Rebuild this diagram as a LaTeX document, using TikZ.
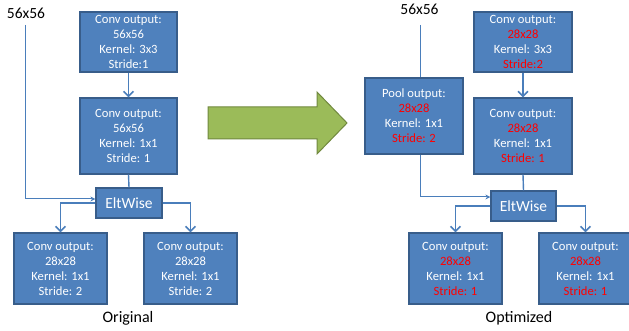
\documentclass[tikz,border=0pt]{standalone}
\usepackage{fontspec}
\setmainfont{Carlito}
\usetikzlibrary{arrows.meta}
\definecolor{boxfill}{HTML}{4F81BD}
\definecolor{boxline}{HTML}{385D8A}
\definecolor{conn}{HTML}{4A7EBB}
\definecolor{arrfill}{HTML}{9BBB59}
\definecolor{arrline}{HTML}{71893F}
\definecolor{hl}{HTML}{FF0000}
\tikzset{
  box/.style={draw=boxline, line width=1.2pt, fill=boxfill, text=white, align=center,
    inner sep=0pt, font=\fontsize{12.6}{15}\selectfont},
  eltbox/.style={draw=boxline, line width=1.2pt, fill=boxfill, text=white,
    inner sep=0pt, font=\fontsize{15.5}{18}\selectfont},
  lbl/.style={inner sep=0pt, font=\fontsize{15.5}{18}\selectfont},
  thick conn/.style={draw=conn, line width=1.8pt, -{Straight Barb[length=5pt,width=10pt,line width=1.6pt]}},
  thin conn/.style={draw=conn, line width=1pt, -{Stealth[length=5pt,width=5pt]}},
  plain conn/.style={draw=conn, line width=1.4pt},
}
\begin{document}
\begin{tikzpicture}[x=1pt,y=-1pt]
\clip (0,0) rectangle (629,331);
\useasboundingbox (0,0) rectangle (629,331);
\fill[white] (0,0) rectangle (629,331);

% ---------- Original ----------
\node[lbl] (lin) at (26,13) {56x56};
\node[box, minimum width=97pt, minimum height=60pt] (l1) at (128.5,42)
  {Conv output:\\56x56\\Kernel: 3x3\\Stride:1};
\node[box, minimum width=97pt, minimum height=76pt] (l2) at (128.5,136)
  {Conv output:\\56x56\\Kernel: 1x1\\Stride: 1};
\node[eltbox, minimum width=66pt, minimum height=30pt] (le) at (129,203) {EltWise};
\node[box, minimum width=93pt, minimum height=71pt] (l3) at (60.5,268.5)
  {Conv output:\\28x28\\Kernel: 1x1\\Stride: 2};
\node[box, minimum width=93pt, minimum height=71pt] (l4) at (190.5,268.5)
  {Conv output:\\28x28\\Kernel: 1x1\\Stride: 2};
\node[lbl, font=\fontsize{16}{19}\selectfont] (lcap) at (128,318) {Original};

\coordinate (lc1) at (25,199);
\draw[thin conn] (25,25) -- (lc1) -- (le.west |- lc1);
\draw[thick conn] (l1.south) -- (l2.north);
\draw[plain conn] (l2.south) -- (le.north);
\draw[thick conn] (le.west) -| (l3.north);
\draw[thick conn] (le.east) -| (l4.north);

% ---------- green arrow ----------
\draw[fill=arrfill, draw=arrline, line width=1pt, line join=miter]
  (208,107) -- (317,107) -- (317,92) -- (347,123) -- (317,154) -- (317,139) -- (208,139) -- cycle;

% ---------- Optimized ----------
\node[lbl] (rin) at (419.5,9) {56x56};
\node[box, minimum width=98pt, minimum height=60pt] (r1) at (523,42)
  {Conv output:\\\textcolor{hl}{28x28}\\Kernel: 3x3\\\textcolor{hl}{Stride:2}};
\node[box, minimum width=98pt, minimum height=76pt] (r2) at (523,136)
  {Conv output:\\\textcolor{hl}{28x28}\\Kernel: 1x1\\\textcolor{hl}{Stride: 1}};
\node[box, minimum width=98pt, minimum height=76pt] (rp) at (414,116)
  {Pool output:\\\textcolor{hl}{28x28}\\Kernel: 1x1\\\textcolor{hl}{Stride: 2}};
\node[eltbox, minimum width=65pt, minimum height=30pt] (re) at (523.5,206) {EltWise};
\node[box, minimum width=93pt, minimum height=71pt] (r3) at (455.5,268.5)
  {Conv output:\\\textcolor{hl}{28x28}\\Kernel: 1x1\\\textcolor{hl}{Stride: 1}};
\node[box, minimum width=93pt, minimum height=71pt] (r4) at (585.5,268.5)
  {Conv output:\\\textcolor{hl}{28x28}\\Kernel: 1x1\\\textcolor{hl}{Stride: 1}};
\node[lbl, font=\fontsize{16}{19}\selectfont] (rcap) at (519,318) {Optimized};

\coordinate (rtop) at (420,25);
\coordinate (rc1) at (420,197);
\draw[plain conn, line width=1pt] (rtop) -- (rtop |- rp.north);
\draw[thin conn] (rtop |- rp.south) -- (rc1) -- (re.west |- rc1);
\draw[thick conn] (r1.south) -- (r2.north);
\draw[plain conn] (r2.south) -- (re.north);
\draw[thick conn] (re.west) -| (r3.north);
\draw[thick conn] (re.east) -| (r4.north);
\end{tikzpicture}
\end{document}
